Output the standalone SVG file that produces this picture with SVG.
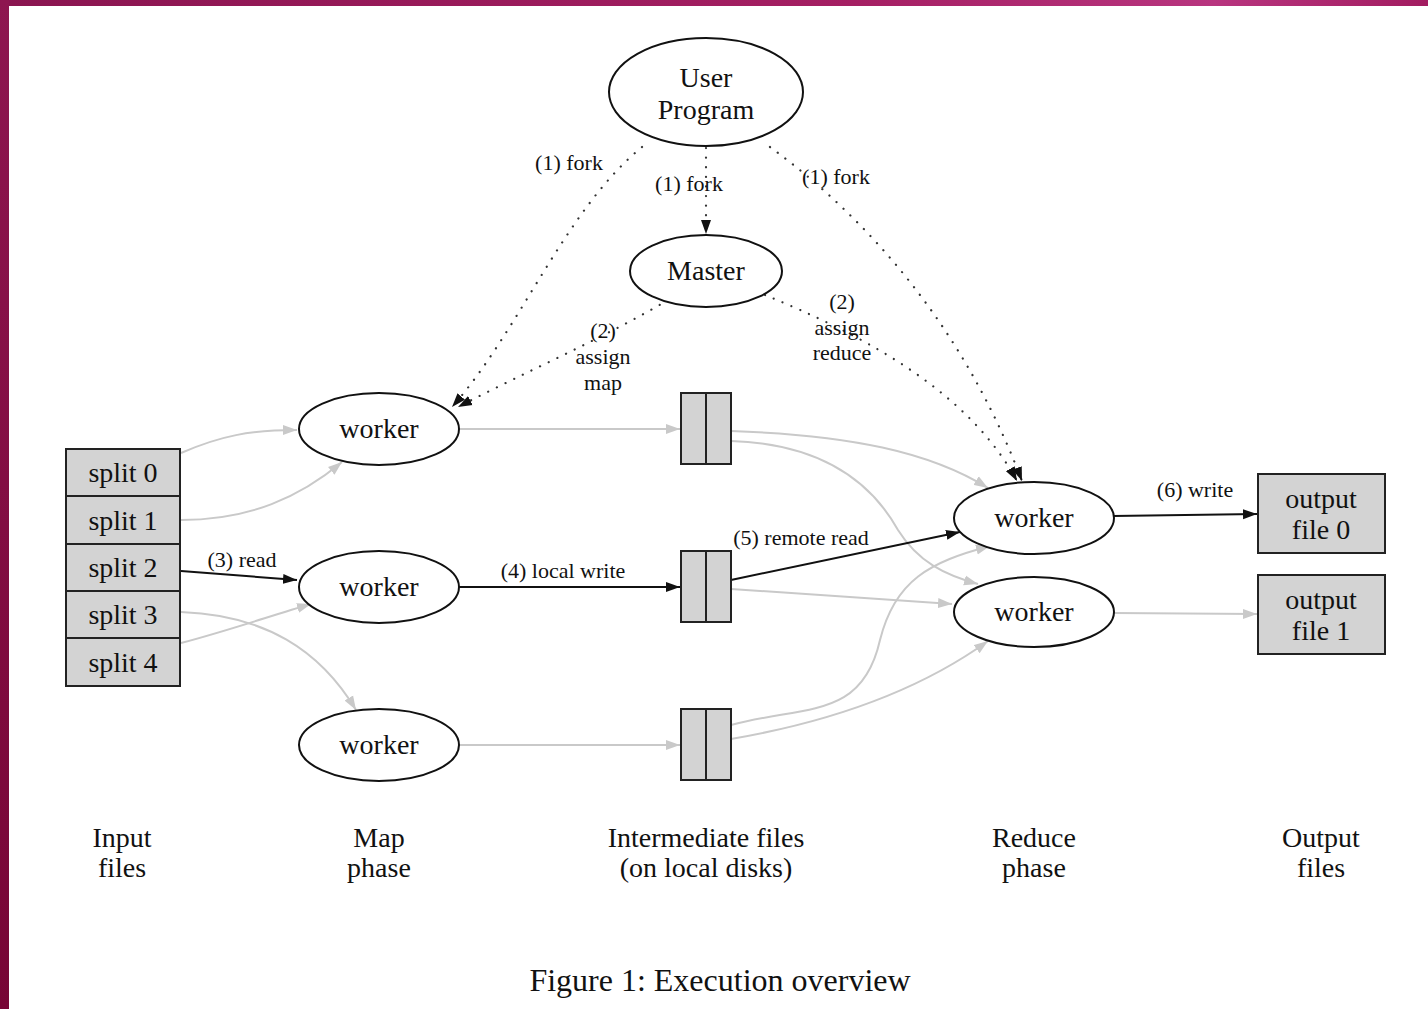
<svg xmlns="http://www.w3.org/2000/svg" width="1428" height="1009" viewBox="0 0 1428 1009">
<style>
text{font-family:"Liberation Serif","Times New Roman",serif;fill:#111;text-anchor:middle}
.n{font-size:28px}
.l{font-size:22px}
.c{font-size:28px}
.ell{fill:#fff;stroke:#111;stroke-width:2}
.box{fill:#d3d3d3;stroke:#222;stroke-width:2}
.e{fill:none;stroke-width:2}
.b{stroke:#111;marker-end:url(#ab)}
.g{stroke:#c9c9c9;marker-end:url(#ag)}
.d{stroke:#333;stroke-width:2.2;stroke-dasharray:0.1 9.5;stroke-linecap:round;marker-end:url(#ab)}
</style>
<defs>
<linearGradient id="top" x1="0" y1="0" x2="1" y2="0"><stop offset="0" stop-color="#8a1550"/><stop offset="0.6" stop-color="#a51f63"/><stop offset="0.85" stop-color="#b8357f"/><stop offset="1" stop-color="#a21c60"/></linearGradient>
<linearGradient id="left" x1="0" y1="0" x2="0" y2="1"><stop offset="0" stop-color="#8e1650"/><stop offset="1" stop-color="#770535"/></linearGradient>
<marker id="ab" markerUnits="userSpaceOnUse" markerWidth="15" markerHeight="11" refX="14" refY="5.5" orient="auto"><path d="M0,0.5 L14,5.5 L0,10.5 z" fill="#111"/></marker>
<marker id="ag" markerUnits="userSpaceOnUse" markerWidth="15" markerHeight="11" refX="14" refY="5.5" orient="auto"><path d="M0,0.5 L14,5.5 L0,10.5 z" fill="#c9c9c9"/></marker>
</defs>
<rect width="1428" height="1009" fill="#fff"/>
<rect x="0" y="0" width="1428" height="6" fill="url(#top)"/>
<rect x="0" y="0" width="9" height="1009" fill="url(#left)"/>

<g id="connectors">
<path class="e d" d="M642,147 C565,210 520,330 452,407"/>
<path class="e d" d="M706,148 L706,234"/>
<path class="e d" d="M770,147 C870,220 965,330 1022,481"/>
<path class="e d" d="M668,300 C600,340 525,372 458,407"/>
<path class="e d" d="M765,295 C850,330 965,385 1017,481"/>
<path class="e g" d="M181,453 C220,436 250,430 297,430"/>
<path class="e g" d="M181,520 C250,520 300,497 342,462"/>
<path class="e b" d="M181,571 L297,580"/>
<path class="e g" d="M181,612 C265,615 320,650 356,710"/>
<path class="e g" d="M181,643 C230,630 270,616 311,604"/>
<path class="e g" d="M459,429 L680,429"/>
<path class="e b" d="M459,587 L680,587"/>
<path class="e g" d="M459,745 L680,745"/>
<path class="e g" d="M731,431 C850,435 930,452 988,488"/>
<path class="e g" d="M731,441 C820,444 870,480 898,530 C918,562 945,575 978,584"/>
<path class="e b" d="M731,580 L960,532"/>
<path class="e g" d="M731,589 L952,604"/>
<path class="e g" d="M731,725 C805,705 862,720 880,640 C895,580 930,562 990,546"/>
<path class="e g" d="M731,739 C830,722 920,690 988,641"/>
<path class="e b" d="M1113,516 L1257,514"/>
<path class="e g" d="M1113,613 L1257,614"/>
<text class="l" x="569" y="170">(1) fork</text>
<text class="l" x="689" y="191">(1) fork</text>
<text class="l" x="836" y="184">(1) fork</text>
<text class="l" x="603" y="338">(2)</text>
<text class="l" x="603" y="364">assign</text>
<text class="l" x="603" y="390">map</text>
<text class="l" x="842" y="309">(2)</text>
<text class="l" x="842" y="335">assign</text>
<text class="l" x="842" y="360">reduce</text>
<text class="l" x="242" y="567">(3) read</text>
<text class="l" x="563" y="578">(4) local write</text>
<text class="l" x="801" y="545">(5) remote read</text>
<text class="l" x="1195" y="497">(6) write</text>
</g>

<g id="user-program"><ellipse class="ell" cx="706" cy="92" rx="97" ry="54"/><text class="n" x="706" y="87">User</text><text class="n" x="706" y="119">Program</text></g>
<g id="master"><ellipse class="ell" cx="706" cy="271" rx="76" ry="36"/><text class="n" x="706" y="280">Master</text></g>

<g id="input-files">
<rect class="box" x="66" y="449" width="114" height="47"/><text class="n" x="123" y="482">split 0</text>
<rect class="box" x="66" y="496" width="114" height="48"/><text class="n" x="123" y="530">split 1</text>
<rect class="box" x="66" y="544" width="114" height="47"/><text class="n" x="123" y="577">split 2</text>
<rect class="box" x="66" y="591" width="114" height="47"/><text class="n" x="123" y="624">split 3</text>
<rect class="box" x="66" y="638" width="114" height="48"/><text class="n" x="123" y="672">split 4</text>
</g>

<g id="map-worker-1"><ellipse class="ell" cx="379" cy="429" rx="80" ry="36"/><text class="n" x="379" y="438">worker</text></g>
<g id="map-worker-2"><ellipse class="ell" cx="379" cy="587" rx="80" ry="36"/><text class="n" x="379" y="596">worker</text></g>
<g id="map-worker-3"><ellipse class="ell" cx="379" cy="745" rx="80" ry="36"/><text class="n" x="379" y="754">worker</text></g>

<g id="intermediate-1"><rect class="box" x="681" y="393" width="50" height="71"/><line x1="706" y1="393" x2="706" y2="464" stroke="#222" stroke-width="2"/></g>
<g id="intermediate-2"><rect class="box" x="681" y="551" width="50" height="71"/><line x1="706" y1="551" x2="706" y2="622" stroke="#222" stroke-width="2"/></g>
<g id="intermediate-3"><rect class="box" x="681" y="709" width="50" height="71"/><line x1="706" y1="709" x2="706" y2="780" stroke="#222" stroke-width="2"/></g>

<g id="reduce-worker-1"><ellipse class="ell" cx="1034" cy="518" rx="80" ry="36"/><text class="n" x="1034" y="527">worker</text></g>
<g id="reduce-worker-2"><ellipse class="ell" cx="1034" cy="612" rx="80" ry="35"/><text class="n" x="1034" y="621">worker</text></g>

<g id="output-file-0"><rect class="box" x="1258" y="474" width="127" height="79"/><text class="n" x="1321" y="508">output</text><text class="n" x="1321" y="539">file 0</text></g>
<g id="output-file-1"><rect class="box" x="1258" y="575" width="127" height="79"/><text class="n" x="1321" y="609">output</text><text class="n" x="1321" y="640">file 1</text></g>

<g id="labels">
<text class="c" x="122" y="847">Input</text><text class="c" x="122" y="877">files</text>
<text class="c" x="379" y="847">Map</text><text class="c" x="379" y="877">phase</text>
<text class="c" x="706" y="847">Intermediate files</text><text class="c" x="706" y="877">(on local disks)</text>
<text class="c" x="1034" y="847">Reduce</text><text class="c" x="1034" y="877">phase</text>
<text class="c" x="1321" y="847">Output</text><text class="c" x="1321" y="877">files</text>
<text x="720" y="991" style="font-size:32px">Figure 1: Execution overview</text>
</g>
</svg>
